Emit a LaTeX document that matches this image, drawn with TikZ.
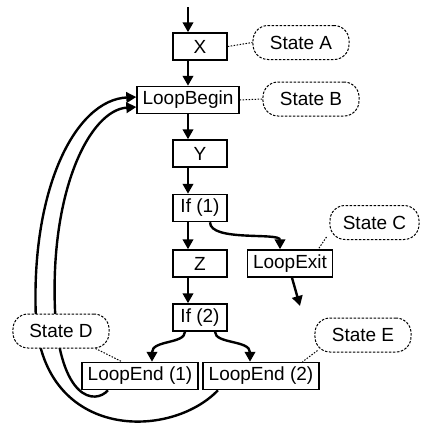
\documentclass[tikz,border=0pt]{standalone}
\usepackage{fontspec}
\setmainfont{Liberation Sans}
\usetikzlibrary{arrows.meta}
\tikzset{
	block/.style={draw, line width=1.5bp, minimum height=27bp, minimum width=54bp, inner xsep=5.5bp, inner ysep=0pt, font=\fontsize{19bp}{22bp}\selectfont},
	statebox/.style={draw, fill=white, line width=1bp, dash pattern=on 2.5bp off 1.5bp, rounded corners=15bp, minimum width=96bp, minimum height=34bp, font=\fontsize{19bp}{22bp}\selectfont},
	note/.style={line width=1bp, dash pattern=on 1.5bp off 1.5bp},
	flow/.style={line width=2.4bp, -{Triangle[length=10bp,width=10.5bp]}}
}

\begin{document}
\begin{tikzpicture}[x=1bp, y=-1bp]
	% picture is 425 x 429, y grows downwards
	\useasboundingbox (0,0) rectangle (425,429);
	
	% main column
	\node[block] (X) at (200,46.5) {X};
	\node[block] (LoopBegin) at (188,100) {LoopBegin};
	\node[block] (Y) at (200,153.5) {Y};
	\node[block] (If1) at (200,208) {If (1)};
	\node[block] (Z) at (200,263.5) {Z};
	\node[block] (If2) at (200,317.5) {If (2)};
	\node[block] (LoopExit) at (290,263.5) {LoopExit};
	\node[block] (LoopEnd1) at (140,376) {LoopEnd (1)};
	\node[block] (LoopEnd2) at (261,376) {LoopEnd (2)};
	
	\coordinate (entry) at (188,7);
	\coordinate (exit) at (300,306);
	
	% straight flow
	\draw[flow] (entry) -- (entry |- X.north);
	\draw[flow] (X.south -| LoopBegin.north) -- (LoopBegin.north);
	\draw[flow] (LoopBegin.south) -- (LoopBegin.south |- Y.north);
	\draw[flow] (Y.south -| LoopBegin.south) -- (If1.north -| LoopBegin.south);
	\draw[flow] (If1.south -| LoopBegin.south) -- (Z.north -| LoopBegin.south);
	\draw[flow] (Z.south -| LoopBegin.south) -- (If2.north -| LoopBegin.south);
	\draw[flow] ([xshift=2bp]LoopExit.south) -- (exit);
	
	% branches
	\draw[flow] ([xshift=10bp]If1.south) .. controls (210,242) and (280,232) .. ([xshift=-10bp]LoopExit.north);
	\draw[flow] ([xshift=-15bp]If2.south) .. controls (185,344) and (152,340) .. ([xshift=12bp]LoopEnd1.north);
	\draw[flow] ([xshift=15bp]If2.south) .. controls (215,344) and (250,340) .. ([xshift=-11bp]LoopEnd2.north);
	
	% back edges
	\draw[flow] ([xshift=-32bp]LoopEnd1.south) .. controls (95,405) and (60,400) .. (55,310)
		.. controls (50,190) and (90,110) .. ([yshift=-7bp]LoopBegin.west);
	\draw[flow] ([xshift=-43bp]LoopEnd2.south) .. controls (170,440) and (45,440) .. (36,320)
		.. controls (30,190) and (75,100) .. ([yshift=3bp]LoopBegin.west);
	
	% states (on top of the back edges)
	\node[statebox] (StateA) at (301,42.5) {State A};
	\node[statebox] (StateB) at (311,99) {State B};
	\node[statebox, minimum width=89bp] (StateC) at (374.5,222.5) {State C};
	\node[statebox] (StateD) at (61,331) {State D};
	\node[statebox] (StateE) at (363,335) {State E};
	
	% state links
	\draw[note] (X.east) -- (StateA.west);
	\draw[note] (LoopBegin.east) -- (StateB.west);
	\draw[note] ([shift={(-3bp,3bp)}]StateC.south west) -- ([xshift=-15bp]LoopExit.north east);
	\draw[note] ([xshift=-14bp]StateD.south east) -- ([xshift=-18bp]LoopEnd1.north);
	\draw[note] ([shift={(3bp,2bp)}]StateE.south west) -- ([xshift=-17bp]LoopEnd2.north east);
\end{tikzpicture}
\end{document}
